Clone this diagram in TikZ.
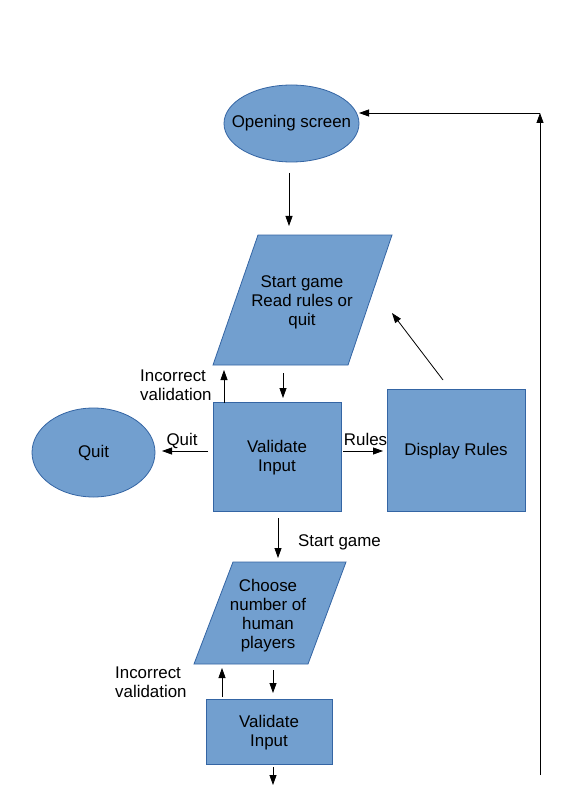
\documentclass[tikz,border=0pt]{standalone}
\usepackage{fontspec}
\setmainfont{Liberation Sans}
\usetikzlibrary{arrows.meta,shapes.geometric}
\definecolor{boxfill}{HTML}{729FCF}
\definecolor{boxline}{HTML}{3465A4}
\begin{document}
\begin{tikzpicture}[x=1pt,y=-1pt,
  txt/.style={font=\fontsize{16.9}{19}\selectfont, text=black, inner sep=0pt},
  shapebox/.style={draw=boxline, fill=boxfill, line width=0.8pt, inner sep=0pt},
  intext/.style={label={[txt, align=center, yshift=-1.5pt]center:#1}},
  oval/.style={shapebox, ellipse},
  proc/.style={shapebox, rectangle},
  para/.style={draw=boxline, fill=boxfill, line width=0.8pt},
  arr/.style={-{Triangle[length=10pt,width=7pt]}, line width=0.8pt, black}]
\fill[white] (0,0) rectangle (567,802);
\useasboundingbox (0,0) rectangle (567,802);

% shapes
\node[oval, minimum width=135pt, minimum height=77pt,
      label={[txt]center:Opening screen}] (open) at (291.5,123.5) {};
\draw[para] (258,235) -- (392,235) -- (348,365) -- (213,365) -- cycle;
\node[txt, align=center] (menu) at (302,302) {Start game\\Read rules or\\quit};
\node[proc, minimum width=128pt, minimum height=109pt,
      intext={Validate\\Input}] (val1) at (277,456.5) {};
\node[oval, minimum width=123pt, minimum height=89pt,
      label={[txt]center:Quit}] (quit) at (93.5,452.5) {};
\node[proc, minimum width=138pt, minimum height=122pt,
      intext={Display Rules}] (rules) at (456,450) {};
\draw[para] (233,562) -- (346,562) -- (308,664) -- (194,664) -- cycle;
\node[txt, align=center] (choose) at (268,615.5) {Choose\\number of\\human\\players};
\node[proc, minimum width=126pt, minimum height=65pt,
      intext={Validate\\Input}] (val2) at (269,731.5) {};

% labels
\node[txt, align=left, anchor=west] (inc1) at (140,385.5) {Incorrect\\validation};
\node[txt, anchor=base] (lquit) at (182,445) {Quit};
\node[txt, anchor=base] (lrules) at (365.5,445) {Rules};
\node[txt, anchor=base west] (lstart) at (298,546) {Start game};
\node[txt, align=left, anchor=west] (inc2) at (115,682) {Incorrect\\validation};

% connector end points
\coordinate (a1s) at (289,173); \coordinate (a1e) at (289,226);
\coordinate (a2s) at (224,403); \coordinate (a2e) at (224,370);
\coordinate (a3s) at (283,373); \coordinate (a3e) at (283,398);
\coordinate (a4s) at (208,451); \coordinate (a4e) at (162,451);
\coordinate (a5s) at (343,451); \coordinate (a5e) at (383,451);
\coordinate (a6s) at (443,380); \coordinate (a6e) at (392,313);
\coordinate (a7s) at (278,518); \coordinate (a7e) at (278,558);
\coordinate (a8s) at (222,697); \coordinate (a8e) at (222,668);
\coordinate (a9s) at (273,670); \coordinate (a9e) at (273,693);
\coordinate (a10s) at (273,767); \coordinate (a10e) at (273,785);
\coordinate (loopb) at (540,775); \coordinate (loopc) at (540,113);
\coordinate (loope) at (359,113);

\draw[arr] (a1s) -- (a1e);
\draw[arr] (a2s) -- (a2e);
\draw[arr] (a3s) -- (a3e);
\draw[arr] (a4s) -- (a4e);
\draw[arr] (a5s) -- (a5e);
\draw[arr] (a6s) -- (a6e);
\draw[arr] (a7s) -- (a7e);
\draw[arr] (a8s) -- (a8e);
\draw[arr] (a9s) -- (a9e);
\draw[arr] (a10s) -- (a10e);
\draw[arr] (loopb) -- (loopc);
\draw[arr] (loopc) -- (loope);
\end{tikzpicture}
\end{document}
